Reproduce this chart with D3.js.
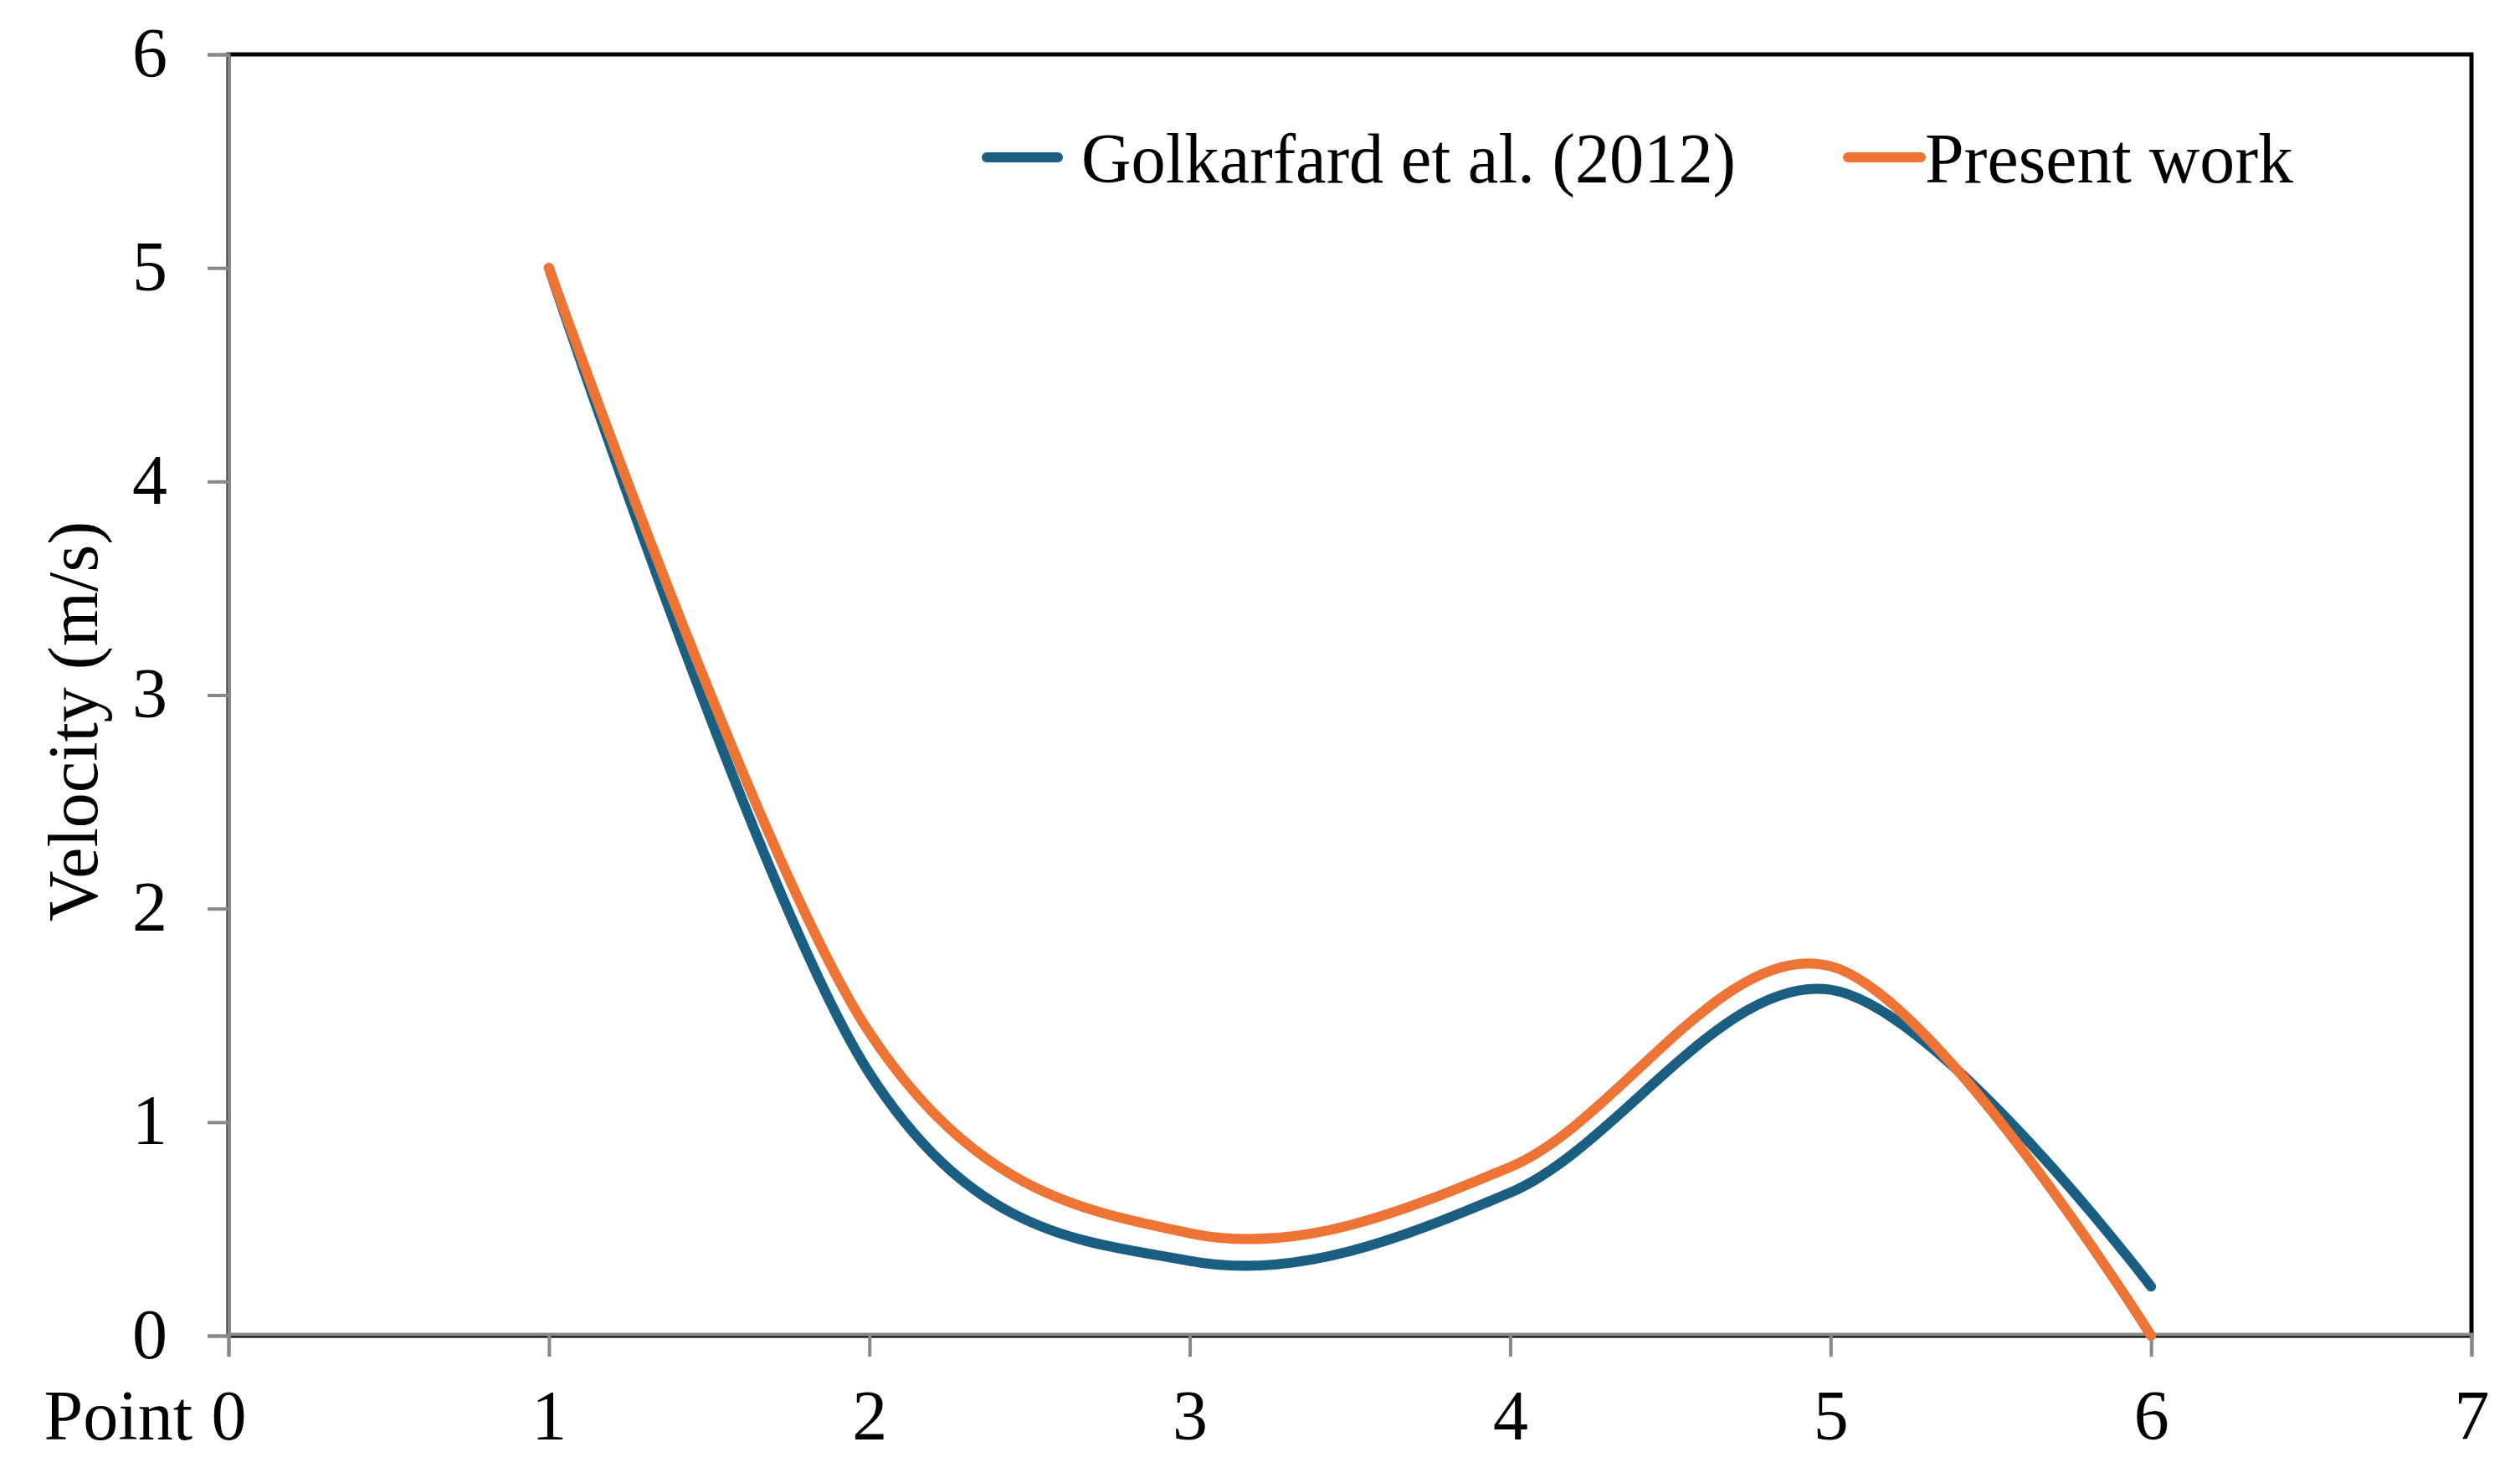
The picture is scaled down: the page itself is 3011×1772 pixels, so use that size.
<!DOCTYPE html>
<html>
<head>
<meta charset="utf-8">
<script src="https://cdn.jsdelivr.net/npm/d3@7"></script>
<style>
  html, body { margin: 0; padding: 0; background: #fff; }
  svg { display: block; }
  text { font-family: "Liberation Serif", "Times New Roman", serif; fill: #000; }
</style>
</head>
<body>
<script>
const points = [1, 2, 3, 4, 5, 6];
const golkarfard = [5, 1.23, 0.35, 0.67, 1.62, 0.23];
const presentWork = [5, 1.42, 0.48, 0.79, 1.73, 0];
const xTicks = [0, 1, 2, 3, 4, 5, 6, 7];
const yTicks = [0, 1, 2, 3, 4, 5, 6];
const seriesNames = ["Golkarfard et al. (2012)", "Present work"];
const seriesColors = ["#1a5f82", "#ed7434"];

const W = 3011, H = 1772;
const L = 273, R = 2953, T = 65, B = 1596;
const FS = 84;

const svg = d3.select("body").append("svg").attr("width", W).attr("height", H);

const x = d3.scaleLinear().domain([0, 7]).range([L, R]);
const y = d3.scaleLinear().domain([0, 6]).range([B, T]);

// frame
svg.append("rect").attr("x", L).attr("y", T).attr("width", R - L).attr("height", B - T)
  .attr("fill", "none").attr("stroke", "#000").attr("stroke-width", 5);

// axes
const yAxis = svg.append("g").attr("transform", `translate(${L},0)`)
  .call(d3.axisLeft(y).tickValues(yTicks).tickSize(25).tickPadding(48).tickFormat(d3.format("d")));
const xAxis = svg.append("g").attr("transform", `translate(0,${B - 2})`)
  .call(d3.axisBottom(x).tickValues(xTicks).tickSize(27).tickPadding(48).tickFormat(d3.format("d")));

[yAxis, xAxis].forEach(g => {
  g.select(".domain").attr("stroke", "#888").attr("stroke-width", 4);
  g.selectAll(".tick line").attr("stroke", "#888").attr("stroke-width", 4);
  g.selectAll(".tick text").attr("font-size", FS)
    .attr("font-family", "Liberation Serif, Times New Roman, serif").attr("fill", "#000");
});
yAxis.selectAll(".tick text").attr("x", -73).attr("dy", "0.31em");
xAxis.selectAll(".tick text").attr("y", 0).attr("dy", 0)
  .attr("transform", `translate(0,${1720 - (B - 2)})`);

// axis titles
svg.append("text").attr("x", 230).attr("y", 1720).attr("text-anchor", "end")
  .attr("font-size", FS).text("Point");
svg.append("text").attr("transform", `translate(116,862) rotate(-90)`)
  .attr("text-anchor", "middle").attr("font-size", FS).text("Velocity (m/s)");

// lines
const line = d3.line().x((d, i) => x(points[i])).y(d => y(d)).curve(d3.curveCardinal.tension(0));
[golkarfard, presentWork].forEach((s, k) => {
  svg.append("path").datum(s).attr("d", line).attr("fill", "none")
    .attr("stroke", seriesColors[k]).attr("stroke-width", 12)
    .attr("stroke-linecap", "round").attr("stroke-linejoin", "round");
});

// legend
const legendItems = [
  { x1: 1179, x2: 1264, tx: 1292, len: 782 },
  { x1: 2208, x2: 2295, tx: 2300, len: 440 }
];
legendItems.forEach((it, k) => {
  svg.append("line").attr("x1", it.x1).attr("x2", it.x2).attr("y1", 188).attr("y2", 188)
    .attr("stroke", seriesColors[k]).attr("stroke-width", 12).attr("stroke-linecap", "round");
  svg.append("text").attr("x", it.tx).attr("y", 218).attr("font-size", FS)
    .attr("textLength", it.len).attr("lengthAdjust", "spacingAndGlyphs").text(seriesNames[k]);
});
</script>
</body>
</html>
